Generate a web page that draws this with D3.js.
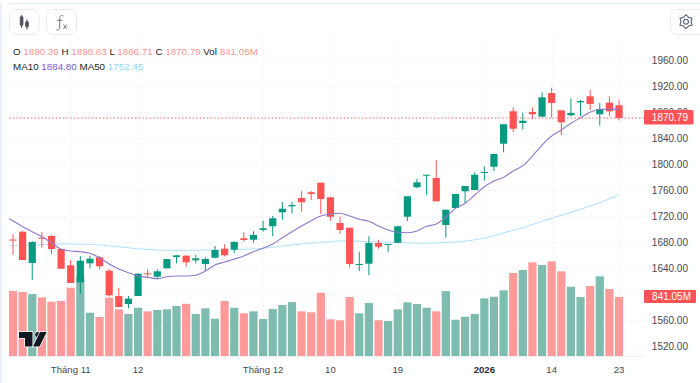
<!DOCTYPE html>
<html><head><meta charset="utf-8">
<script src="https://cdn.jsdelivr.net/npm/d3@7/dist/d3.min.js"></script>
<style>html,body{margin:0;padding:0;background:#fff;overflow:hidden}svg{display:block}text{font-family:"Liberation Sans",Arial,sans-serif}</style>
</head><body><svg id="c" width="700" height="383"></svg>
<script>
const opens=[1683.8,1695.8,1647.7,1686.6,1689.2,1669.2,1644.2,1618,1647.2,1656.5,1635.8,1596.9,1584.6,1596.9,1631.8,1626.6,1639.5,1656.9,1658.9,1651.8,1646.2,1655.8,1669.7,1668.2,1685.7,1683.5,1698.5,1704.2,1725.7,1734.9,1747.7,1756.5,1771.2,1748.8,1709.2,1702,1644.6,1646.6,1678.5,1675.4,1678.9,1718.9,1764.2,1782,1778.5,1706.2,1732.3,1758,1760,1786.2,1795.8,1831.2,1881.1,1863.1,1880,1872.8,1909.2,1882.6,1874.9,1894.9,1904.2,1876.5,1894.3,1890.39];
const highs=[1691.8,1696.9,1681.5,1695.4,1690.8,1669.7,1652.3,1658.5,1658.9,1658.5,1638.5,1609.2,1596.9,1632.3,1638,1638,1653.8,1659.5,1660,1660,1656.5,1673.8,1676.5,1681.1,1694.9,1696.5,1712.8,1720,1741.5,1741.5,1758,1758.5,1771.2,1748.8,1718.9,1702,1665.1,1688.8,1683.5,1676.9,1705.1,1750.3,1777.4,1783.5,1805.7,1729.7,1753.8,1766.2,1787.2,1796.5,1815.4,1861.1,1887.2,1878.9,1887.2,1910.3,1917.4,1882.6,1901.1,1898.5,1913.8,1893.8,1904.2,1898.83];
const lows=[1660,1652.3,1621.5,1671.2,1661.1,1638.9,1616.9,1600,1639.5,1638,1595.8,1580,1578,1596.9,1624.6,1622.6,1639.5,1647.2,1642,1647.2,1635.4,1654.9,1657.7,1663.1,1680.5,1678.9,1695.8,1689.2,1714.3,1724.2,1726.6,1744.6,1723.1,1712.8,1692.8,1641.1,1635.4,1628.8,1669.7,1664.6,1678,1712.3,1762.6,1752.8,1742.6,1686.6,1731.2,1739.5,1760,1774.3,1789.2,1818,1849.2,1852.8,1868.8,1871.8,1871.2,1844.6,1873.4,1873.8,1883.1,1858.9,1873.4,1866.71];
const closes=[1682.3,1652.3,1680,1685.1,1669.2,1638.9,1616.9,1651.2,1654.3,1642.6,1598,1580,1592.8,1631.2,1630.8,1634.9,1653.8,1659.5,1648.8,1654.9,1653.8,1667.7,1659.7,1680,1683.1,1690.8,1701.1,1716.5,1731.2,1736.9,1741.1,1753.8,1746.2,1718.9,1698.5,1646.2,1646.2,1678.5,1672.8,1676.9,1704.2,1750.3,1771.8,1783.5,1742.6,1729.7,1753.8,1766.2,1783.5,1787.7,1815.4,1861.1,1854.3,1866.6,1876.5,1902.6,1893.8,1864.2,1878.5,1896.9,1892.3,1884.6,1881.1,1870.79];
const volumes=[926,912,883.5,836.5,774,784,973,1140,617,556,831,665,598.5,688,637,655.5,665,712.5,745,598.5,680,531.5,784,688,608.5,637,527,670,727,769.5,637,623,902,523,509,841,608.5,755,509,499,665,765,741,688,637,926,517,560,598.5,822,845,936,1183,1225.5,1335,1297,1349,1207,987.5,841,997.5,1136,955,841.05];
// moving averages: first entry belongs to the session just before the first candle
const ma10=[1721,1712.3,1703.5,1695.8,1688.2,1678.9,1668.8,1666.2,1665.1,1662.6,1655.8,1646.2,1638.5,1632.8,1627.7,1625.7,1623.5,1626.6,1627.7,1627.7,1628.8,1635.4,1644.6,1649.2,1653.8,1658.5,1665.1,1670.3,1676.9,1686.6,1695.8,1704.6,1712.8,1720,1723.1,1724.2,1720,1714.9,1711.8,1704.6,1698.5,1694.9,1694.3,1696.9,1704.2,1707.7,1718.5,1731.8,1739.5,1752.3,1765.1,1773.8,1779.5,1789.2,1797.4,1812.3,1829.2,1843.1,1852.3,1862.6,1871.2,1879.5,1884.2,1884.2,1884.8];
const ma50=[1674,1674.3,1674.8,1675.4,1676,1676.6,1677.1,1676.9,1676.6,1676.5,1675.4,1674.3,1672.6,1671.1,1669.7,1668.8,1667.7,1667.2,1667.1,1667.1,1667.4,1667.7,1667.7,1667.7,1668.2,1668.8,1669.5,1670.3,1672,1673.8,1675.4,1676.9,1678.3,1679.5,1680.6,1682,1681.7,1681.1,1680.5,1680,1679.4,1678.9,1678.6,1678.3,1678,1678.5,1679.4,1680,1681.5,1683.4,1685.7,1689.7,1693.8,1698,1702,1706.9,1711.8,1716.5,1721.1,1725.4,1730.3,1735.4,1740.5,1746.6,1752.45];
const priceTicks=[1960,1920,1880,1840,1800,1760,1720,1680,1640,1600,1560,1520];
const priceLabels=[1960,1920,1880,1840,1800,1760,1720,1680,1640,1560,1520]; // 1600.00 is hidden by the volume tag in the reference
const timeTickIdx=[6,13,26,33,40,49,56,63];
const timeTickLabels=["Tháng 11","12","Tháng 12","10","19","2026","14","23"];
const boldTick="2026";
const legendPrice=[["O ","1890.39"],["H ","1898.83"],["L ","1866.71"],["C ","1870.79"],["Vol ","841,05M"]];
const legendMA=[["MA10 ","1884.80","#7e57c2"],["MA50 ","1752.45","#90d5fb"]];
const lastPriceLabel="1870.79", lastVolLabel="841.05M";

const UP="#089981",DOWN="#ff5252",INK="#1b1d24",AXIS="#45484f",GRID="#e7eaf0";
const svg=d3.select("#c");
const x=d3.scaleLinear().domain([0,63]).range([13,619]);
const y=d3.scaleLinear().domain([1680,1960]).range([242,60]);
const v=d3.scaleLinear().domain([0,841.05]).range([356,297]);
const PL=9,PR=644,PT=38,PB=356;
const isUp=i=>closes[i]>=opens[i];

svg.append("defs").append("clipPath").attr("id","plot").append("rect").attr("x",PL).attr("y",PT).attr("width",PR-PL).attr("height",PB-PT+1);

// frame
svg.append("line").attr("x1",9).attr("x2",700).attr("y1",3.5).attr("y2",3.5).attr("stroke","#e6eaf2").attr("stroke-width",1.5);
svg.append("line").attr("x1",1).attr("x2",1).attr("y1",3).attr("y2",383).attr("stroke","#e6eaf2").attr("stroke-width",1.5);

// grid
const g=svg.append("g");
g.selectAll("line.h").data(priceTicks).join("line").attr("class","h").attr("x1",PL).attr("x2",PR)
 .attr("y1",d=>Math.round(y(d))+.5).attr("y2",d=>Math.round(y(d))+.5).attr("stroke",GRID).attr("stroke-dasharray","1 3");
g.selectAll("line.v").data(timeTickIdx).join("line").attr("class","v").attr("y1",PT).attr("y2",PB)
 .attr("x1",d=>Math.round(x(d))+.5).attr("x2",d=>Math.round(x(d))+.5).attr("stroke",GRID).attr("stroke-dasharray","1 3");

// baseline under the volume pane
svg.append("line").attr("x1",PL).attr("x2",PR).attr("y1",356.5).attr("y2",356.5).attr("stroke","#eef0f4");

// volume
const idx=d3.range(opens.length);
svg.append("g").selectAll("rect").data(idx).join("rect")
 .attr("x",i=>x(i)-4.1).attr("width",8.2).attr("y",i=>v(volumes[i])).attr("height",i=>356-v(volumes[i]))
 .attr("fill",i=>isUp(i)?"#7fbcb0":"#ff9a9a").attr("clip-path","url(#plot)");

// logo
svg.append("g").attr("transform","translate(19,331)").attr("fill","#131722").attr("stroke","#fff").attr("stroke-width",1.4).attr("paint-order","stroke")
 .call(s=>s.append("path").attr("d","M0 1H13.5V15.5H6V7H0Z"))
 .call(s=>s.append("circle").attr("cx",19).attr("cy",3.8).attr("r",2.8))
 .call(s=>s.append("path").attr("d","M21 1H27.7L20.5 15.5H14Z"));

// moving averages
const lineFor=a=>d3.line().x((d,i)=>x(i-1)).y(d=>y(d)).curve(d3.curveMonotoneX)(a);
svg.append("path").attr("d",lineFor(ma50)).attr("fill","none").attr("stroke","#b5e2fc").attr("stroke-width",1.1).attr("clip-path","url(#plot)");

// candles
const c=svg.append("g").attr("class","candles");
c.selectAll("line").data(idx).join("line").attr("x1",i=>x(i)).attr("x2",i=>x(i))
 .attr("y1",i=>y(highs[i])).attr("y2",i=>y(lows[i])).attr("stroke",i=>isUp(i)?UP:DOWN).attr("stroke-width",1);
c.selectAll("rect").data(idx).join("rect").attr("x",i=>x(i)-3.6).attr("width",7.2)
 .attr("y",i=>y(Math.max(opens[i],closes[i]))).attr("height",i=>Math.max(1,Math.abs(y(opens[i])-y(closes[i]))))
 .attr("fill",i=>isUp(i)?UP:DOWN);

svg.append("path").attr("d",lineFor(ma10)).attr("fill","none").attr("stroke","#8f78cd").attr("stroke-width",1.1).attr("clip-path","url(#plot)");

// last price line
svg.append("line").attr("x1",9).attr("x2",644).attr("y1",118).attr("y2",118).attr("stroke","#ff6b70").attr("stroke-dasharray","1.6 2").attr("stroke-width",1.2);

// price axis
svg.append("g").attr("font-size",10).attr("fill",AXIS).selectAll("text").data(priceLabels).join("text")
 .attr("x",688).attr("text-anchor","end").attr("y",d=>y(d)+3.6).text(d=>d.toFixed(2));

// price labels
function tag(val,top,h,left,w,tx){
 svg.append("rect").attr("x",left).attr("y",top).attr("width",w).attr("height",h).attr("fill","#ff5257").attr("rx",1);
 svg.append("text").attr("x",tx).attr("y",top+h/2+3.6).attr("text-anchor","end").attr("font-size",10).attr("fill","#fff").text(val);
}
tag(lastPriceLabel,110,14.5,644,49.5,688);
tag(lastVolLabel,290,13,644,52,691);

// time axis
svg.append("g").attr("font-size",9.6).attr("fill",AXIS).selectAll("text").data(timeTickIdx).join("text")
 .attr("x",d=>x(d)).attr("y",372.5).attr("text-anchor","middle")
 .attr("font-weight",(d,i)=>timeTickLabels[i]===boldTick?700:400).attr("fill",(d,i)=>timeTickLabels[i]===boldTick?"#2a2e39":AXIS)
 .text((d,i)=>timeTickLabels[i]);

// legend
const l1=svg.append("text").attr("x",13).attr("y",55).attr("font-size",9.8).attr("fill",INK);
legendPrice.forEach(([k,val])=>{l1.append("tspan").text(k);l1.append("tspan").attr("fill","#ff9396").text(val+" ");});
const l2=svg.append("text").attr("x",13).attr("y",70).attr("font-size",9.8).attr("fill",INK);
legendMA.forEach(([k,val,col])=>{l2.append("tspan").text(k);l2.append("tspan").attr("fill",col).text(val+" ");});

// toolbar buttons
const btn=(bx,by,w,h)=>svg.append("rect").attr("x",bx+.5).attr("y",by+.5).attr("width",w).attr("height",h).attr("rx",6).attr("fill","#fff").attr("stroke","#e6ebf3");
btn(9,9,29.5,25);btn(46,9,30,25);btn(670,9,40,25);
const ic=svg.append("g").attr("fill","#50535e").attr("stroke","#50535e");
ic.append("rect").attr("x",20.3).attr("y",16.5).attr("width",2.6).attr("height",9).attr("rx",1);
ic.append("line").attr("x1",21.6).attr("x2",21.6).attr("y1",15).attr("y2",28);
ic.append("rect").attr("x",25.7).attr("y",21.5).attr("width",2.6).attr("height",5.5).attr("rx",1);
ic.append("line").attr("x1",27).attr("x2",27).attr("y1",19.5).attr("y2",29.5);
const fx=svg.append("g").attr("fill","none").attr("stroke","#6a6d78").attr("stroke-width",.9);
fx.append("path").attr("d","M63.5 16.2C61 14.6 59.8 16 59.7 18.5L59.7 27C59.6 29.8 58 30.6 56.2 29.4");
fx.append("path").attr("d","M57 20.3H62.3");
fx.append("path").attr("d","M63.5 24.5L66.7 29M66.7 24.5L63.5 29");
// gear
const gear=svg.append("g").attr("transform","translate(686,21.7)").attr("fill","none").attr("stroke","#5c6070").attr("stroke-width",1.1);
gear.append("circle").attr("r",2.4);
const pts=d3.range(12).map(k=>{const r=k%2?5:7,a=k*Math.PI/6;return[r*Math.sin(a),-r*Math.cos(a)];});
gear.append("path").attr("d",d3.line().curve(d3.curveLinearClosed)(pts)).attr("stroke-linejoin","round");
</script></body></html>
